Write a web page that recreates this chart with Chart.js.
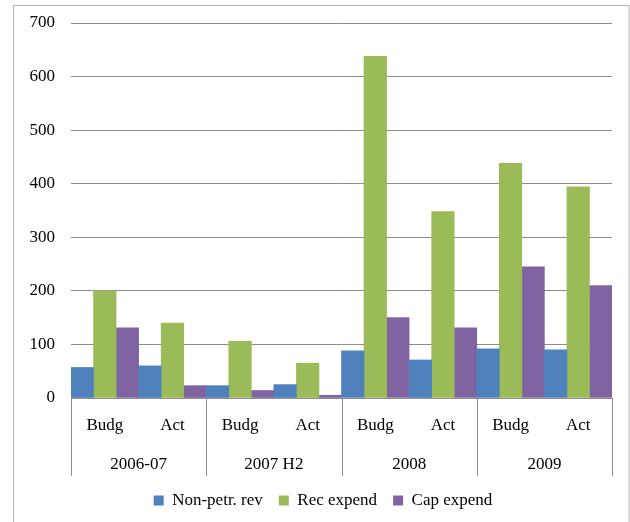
<!DOCTYPE html>
<html>
<head>
<meta charset="utf-8">
<script src="https://cdn.jsdelivr.net/npm/chart.js@4/dist/chart.umd.min.js"></script>
<style>
  html, body { margin: 0; padding: 0; background: #fff; }
  #wrap { width: 630px; height: 522px; position: relative; }
</style>
</head>
<body>
<div id="wrap"><canvas id="myChart" width="630" height="522"></canvas></div>
<script>
// sub-categories and their groups
var subLabels = ['Budg', 'Act', 'Budg', 'Act', 'Budg', 'Act', 'Budg', 'Act'];
var groupLabels = ['2006-07', '2007 H2', '2008', '2009'];

var nonPetrRev = [57, 60, 23, 25, 88, 71, 92, 90];
var recExpend = [200, 140, 106, 65, 638, 348, 438, 394];
var capExpend = [131, 23, 14, 5, 150, 131, 245, 210];

var yTicks = [0, 100, 200, 300, 400, 500, 600, 700];

var serif = "'Liberation Serif', 'Times New Roman', serif";

// draws the frame, the group separators and the group row under the axis
var groupAxis = {
    id: 'groupAxis',
    afterLayout: function(chart) {
        // legend sits a bit right of the plot centre in the original
        chart.legend.left += 17;
        chart.legend.right += 17;
    },
    afterDraw: function(chart) {
        var ctx = chart.ctx;
        var x = chart.scales.x;
        var area = chart.chartArea;
        ctx.save();
        ctx.strokeStyle = '#b4b4b4';
        ctx.lineWidth = 1;
        ctx.strokeRect(13.5, 5.5, 615.5, 540);

        ctx.strokeStyle = '#8c8c8c';
        var perGroup = subLabels.length / groupLabels.length;
        var step = x.getPixelForValue(1) - x.getPixelForValue(0);
        ctx.font = '17px ' + serif;
        ctx.fillStyle = '#000';
        ctx.textAlign = 'center';
        ctx.textBaseline = 'middle';
        for (var g = 0; g <= groupLabels.length; g++) {
            var px = Math.round(x.getPixelForValue(g * perGroup) - step / 2) + 0.5;
            ctx.beginPath();
            ctx.moveTo(px, area.bottom);
            ctx.lineTo(px, x.bottom);
            ctx.stroke();
            if (g < groupLabels.length) {
                var cx = x.getPixelForValue(g * perGroup) - step / 2 + step * perGroup / 2;
                ctx.fillText(groupLabels[g], cx, area.bottom + 67);
            }
        }
        ctx.restore();
    }
};

var ctx = document.getElementById('myChart').getContext('2d');
var chart = new Chart(ctx, {
    type: 'bar',
    data: {
        labels: subLabels,
        datasets: [
            { label: 'Non-petr. rev', data: nonPetrRev, backgroundColor: '#4F81BD' },
            { label: 'Rec expend', data: recExpend, backgroundColor: '#9BBB59' },
            { label: 'Cap expend', data: capExpend, backgroundColor: '#8064A2' }
        ]
    },
    options: {
        responsive: false,
        animation: false,
        datasets: { bar: { categoryPercentage: 1.0, barPercentage: 1.0 } },
        layout: { padding: { top: 23, right: 18, bottom: 3, left: 0 } },
        plugins: {
            tooltip: { enabled: false },
            legend: {
                position: 'bottom',
                labels: {
                    boxWidth: 10,
                    boxHeight: 10,
                    padding: 16,
                    color: '#000',
                    font: { family: serif, size: 17 }
                }
            }
        },
        scales: {
            x: {
                grid: { display: false, drawTicks: false },
                border: { display: true, color: '#8c8c8c' },
                ticks: { color: '#000', padding: 17, font: { family: serif, size: 17 } },
                afterFit: function(scale) { scale.height = 78; }
            },
            y: {
                min: 0,
                max: 700,
                afterBuildTicks: function(scale) {
                    scale.ticks = yTicks.map(function(v) { return { value: v }; });
                },
                grid: { color: '#8c8c8c', drawTicks: false },
                border: { display: false },
                ticks: { color: '#000', padding: 16, font: { family: serif, size: 17 } },
                afterFit: function(scale) {
                    scale.width = 71;
                    scale.paddingTop = 0;
                    scale.paddingBottom = 0;
                }
            }
        }
    },
    plugins: [groupAxis]
});
</script>
</body>
</html>
